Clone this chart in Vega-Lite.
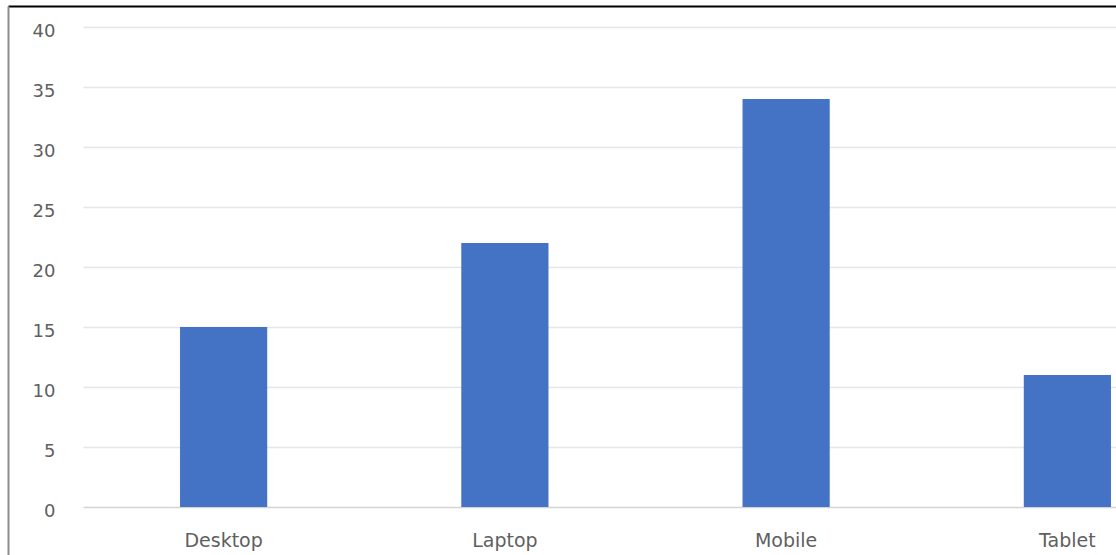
{
  "$schema": "https://vega.github.io/schema/vega-lite/v6.json",
  "autosize": "none",
  "width": 1033,
  "height": 480,
  "padding": {"left": 83, "top": 27, "right": 0, "bottom": 48},
  "background": "#ffffff",
  "config": {"view": {"stroke": null}},
  "data": {"values": [
    {"Device": "Desktop", "Value": 15},
    {"Device": "Laptop", "Value": 22},
    {"Device": "Mobile", "Value": 34},
    {"Device": "Tablet", "Value": 11}
  ]},
  "layer": [
    {
      "mark": {"type": "bar", "color": "#4472C4"},
      "encoding": {
        "x": {
          "field": "Device", "type": "nominal", "sort": null,
          "scale": {"range": [0, 1125], "paddingInner": 0.69, "paddingOuter": 0.345},
          "axis": {
            "title": null, "orient": "bottom", "domain": false, "ticks": false, "grid": false,
            "labelAngle": 0, "labelFont": "DejaVu Sans", "labelFontSize": 19,
            "labelColor": "#5f5f5f", "labelPadding": 24, "labelBaseline": "top"
          }
        },
        "y": {
          "field": "Value", "type": "quantitative",
          "scale": {"domain": [0, 40], "nice": false},
          "axis": {
            "title": null, "orient": "left", "values": [0, 5, 10, 15, 20, 25, 30, 35, 40],
            "domain": false, "ticks": false,
            "gridColor": {"condition": {"test": "datum.value === 0", "value": "#d4d4d4"}, "value": "#e6e6e6"},
            "gridWidth": 1.5,
            "labelFont": "DejaVu Sans", "labelFontSize": 18, "labelColor": "#5f5f5f",
            "labelPadding": 28, "labelOffset": 4, "labelBaseline": "middle"
          }
        }
      }
    },
    {
      "mark": {"type": "bar", "opacity": 0},
      "encoding": {
        "x": {
          "field": "Device", "type": "nominal", "sort": null,
          "scale": {"range": [-75, 1033]},
          "axis": {
            "title": null, "orient": "top", "offset": 21, "domain": true, "domainColor": "#000000",
            "domainWidth": 2, "ticks": false, "labels": false, "grid": false
          }
        },
        "y": {
          "field": "Value", "type": "quantitative",
          "scale": {"domain": [0, 40], "range": [528, -21], "nice": false},
          "axis": {
            "title": null, "orient": "left", "offset": 75, "domain": true, "domainColor": "#8c8c8c",
            "domainWidth": 2, "ticks": false, "labels": false, "grid": false
          }
        }
      }
    }
  ],
  "resolve": {"scale": {"x": "independent", "y": "independent"}, "axis": {"x": "independent", "y": "independent"}}
}
